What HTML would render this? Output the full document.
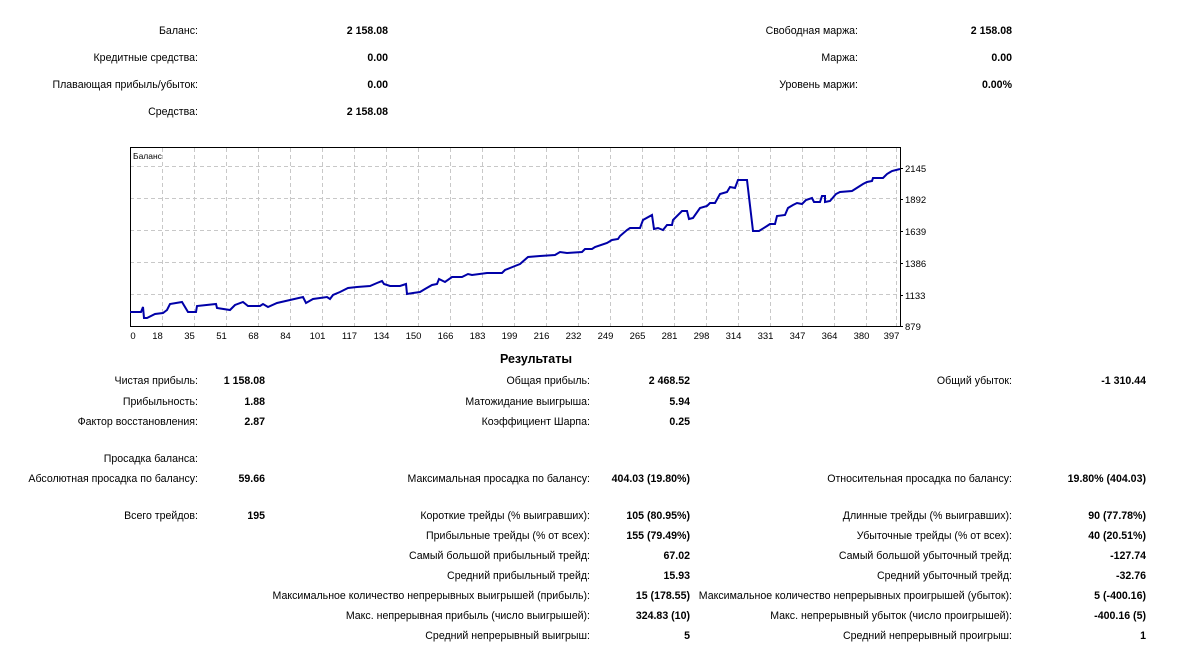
<!DOCTYPE html>
<html><head><meta charset="utf-8"><style>
body{margin:0;width:1198px;height:656px;background:#fff;position:relative;font-family:"Liberation Sans",sans-serif;font-size:10.6px;color:#000;overflow:hidden}
.l,.v{position:absolute;white-space:nowrap;line-height:13px;text-align:right}
.v{font-weight:bold}
</style></head><body>
<script>
const rows=[
[30,198,"Баланс:",388,"2 158.08"],[57,198,"Кредитные средства:",388,"0.00"],[84,198,"Плавающая прибыль/убыток:",388,"0.00"],[111,198,"Средства:",388,"2 158.08"],
[30,858,"Свободная маржа:",1012,"2 158.08"],[57,858,"Маржа:",1012,"0.00"],[84,858,"Уровень маржи:",1012,"0.00%"],
[380,198,"Чистая прибыль:",265,"1 158.08"],[401,198,"Прибыльность:",265,"1.88"],[421,198,"Фактор восстановления:",265,"2.87"],
[458,198,"Просадка баланса:",265,""],[478,198,"Абсолютная просадка по балансу:",265,"59.66"],[515,198,"Всего трейдов:",265,"195"],
[380,590,"Общая прибыль:",690,"2 468.52"],[401,590,"Матожидание выигрыша:",690,"5.94"],[421,590,"Коэффициент Шарпа:",690,"0.25"],
[478,590,"Максимальная просадка по балансу:",690,"404.03 (19.80%)"],
[515,590,"Короткие трейды (% выигравших):",690,"105 (80.95%)"],[535,590,"Прибыльные трейды (% от всех):",690,"155 (79.49%)"],
[555,590,"Самый большой прибыльный трейд:",690,"67.02"],[575,590,"Средний прибыльный трейд:",690,"15.93"],
[595,590,"Максимальное количество непрерывных выигрышей (прибыль):",690,"15 (178.55)"],[615,590,"Макс. непрерывная прибыль (число выигрышей):",690,"324.83 (10)"],
[635,590,"Средний непрерывный выигрыш:",690,"5"],
[380,1012,"Общий убыток:",1146,"-1 310.44"],[478,1012,"Относительная просадка по балансу:",1146,"19.80% (404.03)"],
[515,1012,"Длинные трейды (% выигравших):",1146,"90 (77.78%)"],[535,1012,"Убыточные трейды (% от всех):",1146,"40 (20.51%)"],
[555,1012,"Самый большой убыточный трейд:",1146,"-127.74"],[575,1012,"Средний убыточный трейд:",1146,"-32.76"],
[595,1012,"Максимальное количество непрерывных проигрышей (убыток):",1146,"5 (-400.16)"],[615,1012,"Макс. непрерывный убыток (число проигрышей):",1146,"-400.16 (5)"],
[635,1012,"Средний непрерывный проигрыш:",1146,"1"]];
let h="";
for(const r of rows){h+=`<div class="l" style="top:${r[0]-5}px;right:${1198-r[1]}px">${r[2]}</div>`;
if(r[4])h+=`<div class="v" style="top:${r[0]-5}px;right:${1198-r[3]}px">${r[4]}</div>`;}
document.write(h);
</script>
<div style="position:absolute;left:436px;width:200px;top:352px;text-align:center;font-weight:bold;font-size:12.5px">Результаты</div>
<svg width="1198" height="656" style="position:absolute;left:0;top:0" font-family="Liberation Sans, sans-serif" font-size="9.5">
<g stroke="#c8c8c8" stroke-dasharray="4,3" stroke-width="1">
<line x1="130" x2="900" y1="166.5" y2="166.5"/><line x1="130" x2="900" y1="198.5" y2="198.5"/><line x1="130" x2="900" y1="230.5" y2="230.5"/><line x1="130" x2="900" y1="262.5" y2="262.5"/><line x1="130" x2="900" y1="294.5" y2="294.5"/>
<line x1="162.5" x2="162.5" y1="148" y2="326"/><line x1="194.5" x2="194.5" y1="148" y2="326"/><line x1="226.5" x2="226.5" y1="148" y2="326"/><line x1="258.5" x2="258.5" y1="148" y2="326"/><line x1="290.5" x2="290.5" y1="148" y2="326"/><line x1="322.5" x2="322.5" y1="148" y2="326"/><line x1="354.5" x2="354.5" y1="148" y2="326"/><line x1="386.5" x2="386.5" y1="148" y2="326"/><line x1="418.5" x2="418.5" y1="148" y2="326"/><line x1="450.5" x2="450.5" y1="148" y2="326"/><line x1="482.5" x2="482.5" y1="148" y2="326"/><line x1="514.5" x2="514.5" y1="148" y2="326"/><line x1="546.5" x2="546.5" y1="148" y2="326"/><line x1="578.5" x2="578.5" y1="148" y2="326"/><line x1="610.5" x2="610.5" y1="148" y2="326"/><line x1="642.5" x2="642.5" y1="148" y2="326"/><line x1="674.5" x2="674.5" y1="148" y2="326"/><line x1="706.5" x2="706.5" y1="148" y2="326"/><line x1="738.5" x2="738.5" y1="148" y2="326"/><line x1="770.5" x2="770.5" y1="148" y2="326"/><line x1="802.5" x2="802.5" y1="148" y2="326"/><line x1="834.5" x2="834.5" y1="148" y2="326"/><line x1="866.5" x2="866.5" y1="148" y2="326"/><line x1="896.5" x2="896.5" y1="148" y2="326"/>
</g>
<rect x="130.5" y="147.5" width="770" height="179" fill="none" stroke="#000"/>
<text x="133" y="159" font-size="8.5">Баланс</text>
<polyline fill="none" stroke="#0000a8" stroke-width="2" points="130,312 141,312 143,307 144,318 147,318 155,314 163,313 167,310 170,304 182,302 188,312 196,312 197,306 216,304 217,308 230,310 235,305 243,302 248,306 260,306 263,304 268,307 277,303 290,300 303,297 306,303 313,299 327,297 330,299 333,295 340,292 348,288 357,287 370,286 377,283 382,281 384,284 390,286 400,286 406,284 407,294 413,293 420,292 425,289 432,285 437,284 439,279 445,282 452,277 462,277 468,274 472,275 487,273 502,273 505,270 515,266 520,264 528,257 540,256 555,255 560,252 567,253 582,252 585,249 592,249 595,247 607,243 612,240 618,239 620,236 627,230 630,228 640,228 643,220 652,215 654,229 658,228 663,230 667,225 672,225 673,220 682,211 687,211 689,219 693,218 700,208 707,206 710,203 715,203 720,194 727,192 730,187 735,188 738,180 747,180 753,231 759,231 767,226 770,224 775,224 777,216 785,215 788,208 793,205 797,203 802,204 806,200 812,198 814,202 820,202 822,196 825,196 825,202 830,201 836,194 840,192 852,191 863,184 867,182 872,181 873,178 883,178 887,174 892,171 900,169"/>
<g stroke="#000"><line x1="900" x2="903" y1="168.5" y2="168.5"/><line x1="900" x2="903" y1="199.5" y2="199.5"/><line x1="900" x2="903" y1="231.5" y2="231.5"/><line x1="900" x2="903" y1="263.5" y2="263.5"/><line x1="900" x2="903" y1="295.5" y2="295.5"/><line x1="900" x2="903" y1="326.5" y2="326.5"/></g>
<g>
<text x="905" y="172">2145</text><text x="905" y="203">1892</text><text x="905" y="235">1639</text><text x="905" y="267">1386</text><text x="905" y="299">1133</text><text x="905" y="330">879</text>
</g>
<g text-anchor="middle">
<text x="133" y="339">0</text><text x="157.5" y="339">18</text><text x="189.5" y="339">35</text><text x="221.5" y="339">51</text><text x="253.5" y="339">68</text><text x="285.5" y="339">84</text><text x="317.5" y="339">101</text><text x="349.5" y="339">117</text><text x="381.5" y="339">134</text><text x="413.5" y="339">150</text><text x="445.5" y="339">166</text><text x="477.5" y="339">183</text><text x="509.5" y="339">199</text><text x="541.5" y="339">216</text><text x="573.5" y="339">232</text><text x="605.5" y="339">249</text><text x="637.5" y="339">265</text><text x="669.5" y="339">281</text><text x="701.5" y="339">298</text><text x="733.5" y="339">314</text><text x="765.5" y="339">331</text><text x="797.5" y="339">347</text><text x="829.5" y="339">364</text><text x="861.5" y="339">380</text><text x="891.5" y="339">397</text>
</g>
</svg>
</body></html>
